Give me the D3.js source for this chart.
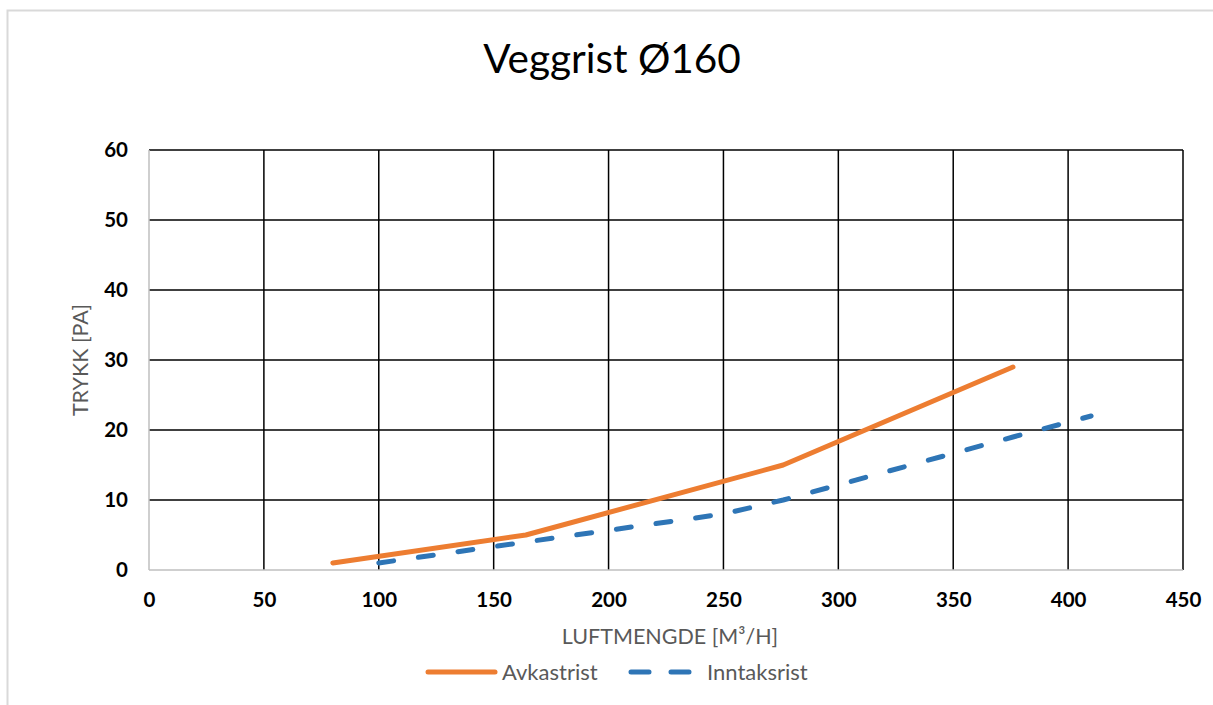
<!DOCTYPE html>
<html>
<head>
<meta charset="utf-8">
<script src="https://cdn.jsdelivr.net/npm/d3@7"></script>
<style>
  body { margin: 0; background: #fff; }
  svg { display: block; font-family: Lato, "Open Sans", sans-serif; }
</style>
</head>
<body>
<svg id="chart" width="1213" height="705"></svg>
<script>
// Values
const avkastrist = [[80, 1], [164, 5], [276, 15], [376, 29]];
const inntaksrist = [[100, 1], [164, 4], [250, 8], [276, 10], [376, 19], [410, 22]];
const xTicks = [0, 50, 100, 150, 200, 250, 300, 350, 400, 450];
const yTicks = [0, 10, 20, 30, 40, 50, 60];
const seriesNames = ['Avkastrist', 'Inntaksrist'];

const svg = d3.select('#chart');

// plot area
const plot = { left: 149, right: 1183, top: 150, bottom: 570 };

const x = d3.scaleLinear().domain([0, 450]).range([plot.left, plot.right]);
const y = d3.scaleLinear().domain([0, 60]).range([plot.bottom, plot.top]);

// outer chart border (only top and left are visible in the crop)
svg.append('path')
  .attr('d', 'M7.5,705 V10.5 H1213')
  .attr('fill', 'none')
  .attr('stroke', '#d9d9d9')
  .attr('stroke-width', 2);

// title
svg.append('text')
  .attr('x', 612).attr('y', 73)
  .attr('text-anchor', 'middle')
  .attr('font-size', 40.5)
  .attr('fill', '#000')
  .text('Veggrist Ø160');

// grid: black lines, except the axis lines at zero which are grey
const grid = svg.append('g');
grid.selectAll('.hgrid')
  .data(yTicks.filter(d => d > 0))
  .enter().append('line')
  .attr('x1', plot.left).attr('x2', plot.right)
  .attr('y1', d => y(d)).attr('y2', d => y(d))
  .attr('stroke', '#000').attr('stroke-width', 1.5);
grid.selectAll('.vgrid')
  .data(xTicks.filter(d => d > 0))
  .enter().append('line')
  .attr('y1', plot.top).attr('y2', plot.bottom)
  .attr('x1', d => x(d)).attr('x2', d => x(d))
  .attr('stroke', '#000').attr('stroke-width', 1.5);
grid.append('line')
  .attr('x1', x(0)).attr('x2', x(0)).attr('y1', plot.top).attr('y2', plot.bottom)
  .attr('stroke', '#bfbfbf').attr('stroke-width', 1.5);
grid.append('line')
  .attr('x1', plot.left).attr('x2', plot.right).attr('y1', y(0)).attr('y2', y(0))
  .attr('stroke', '#bfbfbf').attr('stroke-width', 1.5);

// axes (labels only)
const xAxis = svg.append('g')
  .attr('transform', `translate(0,${plot.bottom})`)
  .call(d3.axisBottom(x).tickValues(xTicks).tickSize(0).tickPadding(22));
const yAxis = svg.append('g')
  .attr('transform', `translate(${plot.left},0)`)
  .call(d3.axisLeft(y).tickValues(yTicks).tickSize(0).tickPadding(21));
[xAxis, yAxis].forEach(a => {
  a.select('.domain').remove();
  a.selectAll('text')
    .attr('font-family', 'Lato, "Open Sans", sans-serif')
    .attr('font-size', 20.5)
    .attr('font-weight', 'bold')
    .attr('fill', '#000');
});

// axis titles
svg.append('text')
  .attr('x', 670).attr('y', 644)
  .attr('text-anchor', 'middle')
  .attr('font-size', 21.5).attr('fill', '#595959')
  .text('LUFTMENGDE [M³/H]');
svg.append('text')
  .attr('transform', 'translate(88,360) rotate(-90)')
  .attr('text-anchor', 'middle')
  .attr('font-size', 21.5).attr('fill', '#595959')
  .text('TRYKK [PA]');

// series
const line = d3.line().x(d => x(d[0])).y(d => y(d[1]));
svg.append('path')
  .datum(avkastrist)
  .attr('d', line)
  .attr('fill', 'none')
  .attr('stroke', '#ed7d31')
  .attr('stroke-width', 5)
  .attr('stroke-linecap', 'round')
  .attr('stroke-linejoin', 'round');
svg.append('path')
  .datum(inntaksrist)
  .attr('d', line)
  .attr('fill', 'none')
  .attr('stroke', '#2e75b6')
  .attr('stroke-width', 5)
  .attr('stroke-dasharray', '15,25')
  .attr('stroke-linecap', 'round')
  .attr('stroke-linejoin', 'round');

// legend
const legend = svg.append('g');
legend.append('line')
  .attr('x1', 428).attr('x2', 495).attr('y1', 672).attr('y2', 672)
  .attr('stroke', '#ed7d31').attr('stroke-width', 5).attr('stroke-linecap', 'round');
legend.append('text')
  .attr('x', 502).attr('y', 680)
  .attr('font-size', 22).attr('fill', '#595959')
  .text(seriesNames[0]);
legend.append('line')
  .attr('x1', 631).attr('x2', 690).attr('y1', 672).attr('y2', 672)
  .attr('stroke', '#2e75b6').attr('stroke-width', 5)
  .attr('stroke-dasharray', '18,22').attr('stroke-linecap', 'round');
legend.append('text')
  .attr('x', 707).attr('y', 680)
  .attr('font-size', 22).attr('fill', '#595959')
  .text(seriesNames[1]);
</script>
</body>
</html>
